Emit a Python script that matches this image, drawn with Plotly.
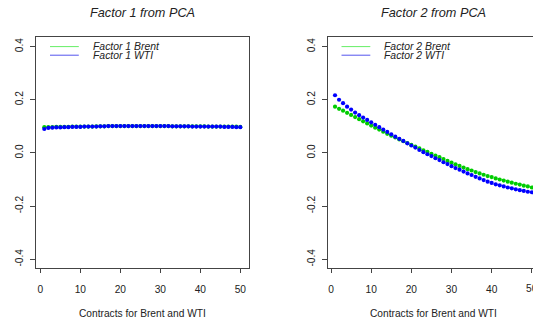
import plotly.graph_objects as go

W, H = 533, 324

contracts = list(range(1, 51))

factor1_brent = [0.097, 0.097, 0.097, 0.098, 0.098, 0.098, 0.098, 0.099, 0.099, 0.099,
                 0.099, 0.099, 0.099, 0.100, 0.100, 0.100, 0.101, 0.101, 0.101, 0.101,
                 0.101, 0.101, 0.101, 0.101, 0.101, 0.101, 0.101, 0.101, 0.101, 0.101,
                 0.101, 0.101, 0.100, 0.100, 0.100, 0.100, 0.100, 0.100, 0.100, 0.100,
                 0.100, 0.099, 0.099, 0.099, 0.099, 0.099, 0.099, 0.099, 0.099, 0.098]
factor1_wti = [0.090, 0.094, 0.095, 0.096, 0.096, 0.097, 0.097, 0.098, 0.098, 0.098,
               0.099, 0.099, 0.099, 0.099, 0.100, 0.100, 0.101, 0.101, 0.101, 0.101,
               0.101, 0.101, 0.101, 0.101, 0.101, 0.101, 0.101, 0.101, 0.101, 0.101,
               0.101, 0.101, 0.100, 0.100, 0.100, 0.100, 0.100, 0.099, 0.099, 0.099,
               0.099, 0.099, 0.099, 0.099, 0.099, 0.098, 0.098, 0.098, 0.097, 0.097]

factor2_brent = [0.174, 0.166, 0.159, 0.151, 0.143, 0.135, 0.127, 0.119, 0.111, 0.103,
                 0.095, 0.088, 0.080, 0.072, 0.065, 0.058, 0.051, 0.044, 0.037, 0.030,
                 0.024, 0.017, 0.010, 0.004, -0.003, -0.010, -0.016, -0.023, -0.030, -0.036,
                 -0.043, -0.049, -0.055, -0.061, -0.066, -0.072, -0.077, -0.082, -0.087, -0.091,
                 -0.096, -0.100, -0.104, -0.108, -0.112, -0.116, -0.119, -0.123, -0.126, -0.130]
factor2_wti = [0.217, 0.200, 0.187, 0.174, 0.163, 0.152, 0.142, 0.133, 0.124, 0.115,
               0.106, 0.097, 0.088, 0.079, 0.070, 0.061, 0.053, 0.045, 0.036, 0.028,
               0.020, 0.011, 0.003, -0.005, -0.012, -0.020, -0.027, -0.035, -0.042, -0.050,
               -0.057, -0.063, -0.070, -0.077, -0.083, -0.090, -0.096, -0.102, -0.108, -0.113,
               -0.118, -0.122, -0.126, -0.130, -0.133, -0.137, -0.140, -0.143, -0.146, -0.148]

x_ticks = [0, 10, 20, 30, 40, 50]
y_ticks = [-0.4, -0.2, 0.0, 0.2, 0.4]
y_tick_text = ["-0.4", "-0.2", "0.0", "0.2", "0.4"]

titles = ["Factor 1 from PCA", "Factor 2 from PCA"]
x_title = "Contracts for Brent and WTI"
legend_labels = [["Factor 1 Brent", "Factor 1 WTI"], ["Factor 2 Brent", "Factor 2 WTI"]]

GREEN = "#00CC00"
BLUE = "#0000FF"
AXIS = "#444444"
TEXT = "#222222"
FONT = "Liberation Sans, Arial, sans-serif"


def xp(px):
    return px / W


def yp(py):
    return 1 - py / H


# panel geometry in pixels: (left, right) of each plot box
panels = [(36.3, 248.7), (327.8, 533.0)]
x_ranges = [[-1.0, 52.1], [-0.8, 50.29]]
top_px, bottom_px = 37.3, 268.3

fig = go.Figure()

series = [(factor1_brent, factor1_wti), (factor2_brent, factor2_wti)]
for i, (brent, wti) in enumerate(series):
    ax = "" if i == 0 else str(i + 1)
    fig.add_trace(go.Scatter(x=contracts, y=brent, mode="markers",
                             marker=dict(color=GREEN, size=4.2, line=dict(width=0)),
                             xaxis="x" + ax, yaxis="y" + ax, showlegend=False))
    fig.add_trace(go.Scatter(x=contracts, y=wti, mode="markers",
                             marker=dict(color=BLUE, size=4.2, line=dict(width=0)),
                             xaxis="x" + ax, yaxis="y" + ax, showlegend=False))

for i, (l, r) in enumerate(panels):
    ax = "" if i == 0 else str(i + 1)
    fig.update_layout(**{
        "xaxis" + ax: dict(
            domain=[xp(l), xp(r)], range=x_ranges[i], anchor="y" + ax,
            tickmode="array", tickvals=x_ticks, ticks="outside", ticklen=4,
            tickcolor=AXIS, tickwidth=1, showline=True, linecolor=AXIS, linewidth=1,
            mirror=True, showgrid=False, zeroline=False,
            tickfont=dict(family=FONT, size=10.2, color=TEXT), ticklabelstandoff=7,
        ),
        "yaxis" + ax: dict(
            domain=[yp(bottom_px), yp(top_px)], range=[-0.434, 0.435], anchor="x" + ax,
            tickmode="array", tickvals=y_ticks, ticktext=y_tick_text, ticks="outside",
            ticklen=5, tickcolor=AXIS, tickwidth=1, showline=True, linecolor=AXIS,
            linewidth=1, mirror=(i == 0), showgrid=False, zeroline=False, tickangle=-90,
            tickfont=dict(family=FONT, size=10.2, color=TEXT), ticklabelstandoff=3,
        ),
    })

    cx = (l + r) / 2 if i == 0 else 433.5
    fig.add_annotation(text="<i>%s</i>" % titles[i], xref="paper", yref="paper",
                       x=xp(cx), y=yp(13), showarrow=False, xanchor="center", yanchor="middle",
                       font=dict(family=FONT, size=12.7, color=TEXT))
    fig.add_annotation(text=x_title, xref="paper", yref="paper",
                       x=xp(cx), y=yp(313.7), showarrow=False, xanchor="center", yanchor="middle",
                       font=dict(family=FONT, size=10.2, color=TEXT))

    # legend: short line samples plus italic labels, no frame
    for j, (lab, col) in enumerate(zip(legend_labels[i], [GREEN, BLUE])):
        ly = 46.6 + j * 8.6
        fig.add_shape(type="line", xref="paper", yref="paper",
                      x0=xp(l + 13.7), x1=xp(l + 42.5), y0=yp(ly), y1=yp(ly),
                      line=dict(color="#66EE66" if j == 0 else "#5555EE", width=1))
        fig.add_annotation(text="<i>%s</i>" % lab, xref="paper", yref="paper",
                           x=xp(l + 54.5), y=yp(ly), showarrow=False,
                           xanchor="left", yanchor="middle",
                           font=dict(family=FONT, size=10.4, color=TEXT))

# last tick label of the right panel sits on the page edge
fig.add_annotation(text=str(x_ticks[-1]), xref="x2", yref="paper", x=x_ticks[-1],
                   y=yp(288.3), showarrow=False, xanchor="center", yanchor="middle",
                   font=dict(family=FONT, size=10.2, color=TEXT))

fig.update_layout(width=W, height=H, margin=dict(l=0, r=0, t=0, b=0),
                  paper_bgcolor="white", plot_bgcolor="white", showlegend=False)

fig.write_html("out.html", config={"displayModeBar": False})
